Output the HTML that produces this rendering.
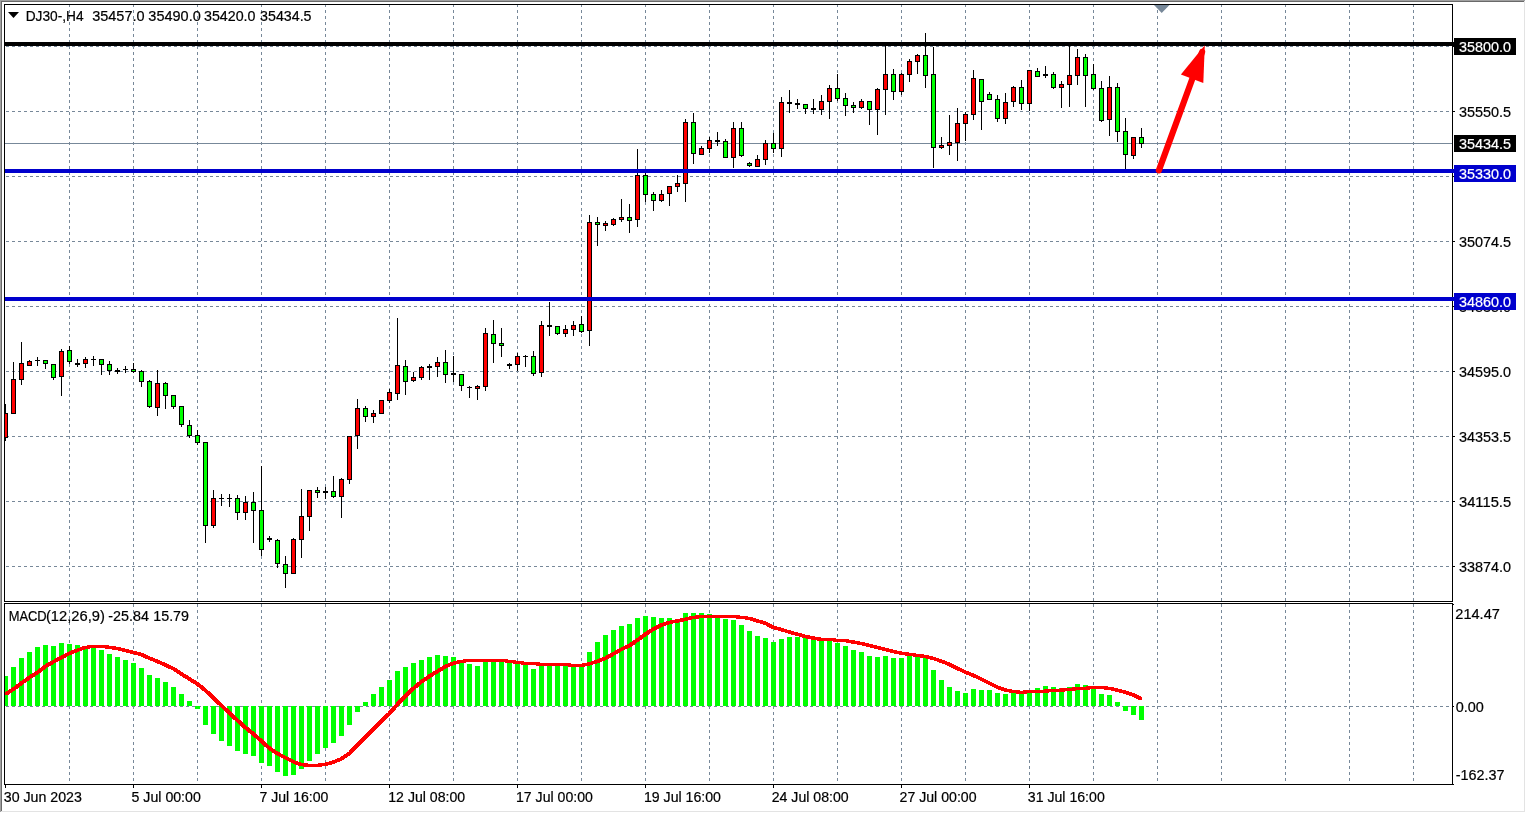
<!DOCTYPE html>
<html lang="en"><head><meta charset="utf-8"><title>DJ30-,H4</title>
<style>html,body{margin:0;padding:0;background:#fff;overflow:hidden}svg{display:block}text{font-family:"Liberation Sans",Arial,sans-serif;font-size:13.8px;fill:#000;stroke:#000;stroke-width:.2px}.w{fill:#fff;stroke:#fff}</style></head><body>
<svg width="1526" height="813" viewBox="0 0 1526 813">
<rect width="1526" height="813" fill="#fff"/>
<g shape-rendering="crispEdges">
<rect x="0" y="0" width="1525" height="1" fill="#a0a0a0"/><rect x="0" y="0" width="1" height="812" fill="#a0a0a0"/>
<rect x="1" y="1" width="1523" height="1" fill="#696969"/><rect x="1" y="1" width="1" height="810" fill="#696969"/>
<rect x="1" y="811" width="1524" height="1" fill="#e3e3e3"/><rect x="1524" y="1" width="1" height="811" fill="#e3e3e3"/>
<defs><clipPath id="cm"><rect x="5" y="5" width="1447" height="596"/></clipPath><clipPath id="ci"><rect x="5" y="604" width="1447" height="180"/></clipPath></defs>
<g clip-path="url(#cm)" stroke="#778899" stroke-width="1" stroke-dasharray="3 3" fill="none">
<path d="M69.5 4V602"/>
<path d="M133.5 4V602"/>
<path d="M197.5 4V602"/>
<path d="M261.5 4V602"/>
<path d="M325.5 4V602"/>
<path d="M389.5 4V602"/>
<path d="M453.5 4V602"/>
<path d="M517.5 4V602"/>
<path d="M581.5 4V602"/>
<path d="M645.5 4V602"/>
<path d="M709.5 4V602"/>
<path d="M773.5 4V602"/>
<path d="M837.5 4V602"/>
<path d="M901.5 4V602"/>
<path d="M965.5 4V602"/>
<path d="M1029.5 4V602"/>
<path d="M1093.5 4V602"/>
<path d="M1157.5 4V602"/>
<path d="M1221.5 4V602"/>
<path d="M1285.5 4V602"/>
<path d="M1349.5 4V602"/>
<path d="M1413.5 4V602"/>
<path d="M0 46.5H1453"/>
<path d="M0 111.5H1453"/>
<path d="M0 176.5H1453"/>
<path d="M0 241.5H1453"/>
<path d="M0 306.5H1453"/>
<path d="M0 371.5H1453"/>
<path d="M0 436.5H1453"/>
<path d="M0 501.5H1453"/>
<path d="M0 566.5H1453"/>
</g>
<g clip-path="url(#ci)" stroke="#778899" stroke-width="1" stroke-dasharray="3 3" fill="none">
<path d="M69.5 604V784"/>
<path d="M133.5 604V784"/>
<path d="M197.5 604V784"/>
<path d="M261.5 604V784"/>
<path d="M325.5 604V784"/>
<path d="M389.5 604V784"/>
<path d="M453.5 604V784"/>
<path d="M517.5 604V784"/>
<path d="M581.5 604V784"/>
<path d="M645.5 604V784"/>
<path d="M709.5 604V784"/>
<path d="M773.5 604V784"/>
<path d="M837.5 604V784"/>
<path d="M901.5 604V784"/>
<path d="M965.5 604V784"/>
<path d="M1029.5 604V784"/>
<path d="M1093.5 604V784"/>
<path d="M1157.5 604V784"/>
<path d="M1221.5 604V784"/>
<path d="M1285.5 604V784"/>
<path d="M1349.5 604V784"/>
<path d="M1413.5 604V784"/>
<path d="M0 706.5H1453"/>
</g>
<rect x="5" y="143" width="1447" height="1" fill="#778899"/>
<g clip-path="url(#cm)">
<rect x="5" y="404" width="1" height="37" fill="#000"/>
<rect x="3" y="413" width="5" height="25" fill="#000"/>
<rect x="4" y="414" width="3" height="23" fill="#ff0000"/>
<rect x="13" y="362" width="1" height="52" fill="#000"/>
<rect x="11" y="379" width="5" height="35" fill="#000"/>
<rect x="12" y="380" width="3" height="33" fill="#ff0000"/>
<rect x="21" y="342" width="1" height="43" fill="#000"/>
<rect x="19" y="363" width="5" height="17" fill="#000"/>
<rect x="20" y="364" width="3" height="15" fill="#ff0000"/>
<rect x="29" y="360" width="1" height="6" fill="#000"/>
<rect x="27" y="361" width="5" height="5" fill="#000"/>
<rect x="28" y="362" width="3" height="3" fill="#ff0000"/>
<rect x="37" y="357" width="1" height="9" fill="#000"/>
<rect x="35" y="360" width="5" height="1" fill="#000"/>
<rect x="45" y="360" width="1" height="9" fill="#000"/>
<rect x="43" y="360" width="5" height="4" fill="#000"/>
<rect x="44" y="361" width="3" height="2" fill="#00ff00"/>
<rect x="53" y="364" width="1" height="16" fill="#000"/>
<rect x="51" y="364" width="5" height="14" fill="#000"/>
<rect x="52" y="365" width="3" height="12" fill="#00ff00"/>
<rect x="61" y="349" width="1" height="47" fill="#000"/>
<rect x="59" y="351" width="5" height="26" fill="#000"/>
<rect x="60" y="352" width="3" height="24" fill="#ff0000"/>
<rect x="69" y="346" width="1" height="18" fill="#000"/>
<rect x="67" y="350" width="5" height="12" fill="#000"/>
<rect x="68" y="351" width="3" height="10" fill="#00ff00"/>
<rect x="77" y="359" width="1" height="8" fill="#000"/>
<rect x="75" y="363" width="5" height="2" fill="#000"/>
<rect x="85" y="357" width="1" height="11" fill="#000"/>
<rect x="83" y="359" width="5" height="5" fill="#000"/>
<rect x="84" y="360" width="3" height="3" fill="#ff0000"/>
<rect x="93" y="356" width="1" height="10" fill="#000"/>
<rect x="91" y="359" width="5" height="1" fill="#000"/>
<rect x="101" y="359" width="1" height="16" fill="#000"/>
<rect x="99" y="359" width="5" height="6" fill="#000"/>
<rect x="100" y="360" width="3" height="4" fill="#00ff00"/>
<rect x="109" y="361" width="1" height="14" fill="#000"/>
<rect x="107" y="364" width="5" height="7" fill="#000"/>
<rect x="108" y="365" width="3" height="5" fill="#00ff00"/>
<rect x="117" y="368" width="1" height="6" fill="#000"/>
<rect x="115" y="370" width="5" height="2" fill="#000"/>
<rect x="125" y="366" width="1" height="7" fill="#000"/>
<rect x="123" y="369" width="5" height="1" fill="#000"/>
<rect x="133" y="363" width="1" height="10" fill="#000"/>
<rect x="131" y="369" width="5" height="3" fill="#000"/>
<rect x="132" y="370" width="3" height="1" fill="#00ff00"/>
<rect x="141" y="370" width="1" height="17" fill="#000"/>
<rect x="139" y="371" width="5" height="11" fill="#000"/>
<rect x="140" y="372" width="3" height="9" fill="#00ff00"/>
<rect x="149" y="380" width="1" height="28" fill="#000"/>
<rect x="147" y="381" width="5" height="26" fill="#000"/>
<rect x="148" y="382" width="3" height="24" fill="#00ff00"/>
<rect x="157" y="370" width="1" height="46" fill="#000"/>
<rect x="155" y="383" width="5" height="25" fill="#000"/>
<rect x="156" y="384" width="3" height="23" fill="#ff0000"/>
<rect x="165" y="382" width="1" height="27" fill="#000"/>
<rect x="163" y="383" width="5" height="13" fill="#000"/>
<rect x="164" y="384" width="3" height="11" fill="#00ff00"/>
<rect x="173" y="395" width="1" height="14" fill="#000"/>
<rect x="171" y="395" width="5" height="12" fill="#000"/>
<rect x="172" y="396" width="3" height="10" fill="#00ff00"/>
<rect x="181" y="406" width="1" height="21" fill="#000"/>
<rect x="179" y="406" width="5" height="19" fill="#000"/>
<rect x="180" y="407" width="3" height="17" fill="#00ff00"/>
<rect x="189" y="420" width="1" height="18" fill="#000"/>
<rect x="187" y="425" width="5" height="11" fill="#000"/>
<rect x="188" y="426" width="3" height="9" fill="#00ff00"/>
<rect x="197" y="430" width="1" height="15" fill="#000"/>
<rect x="195" y="435" width="5" height="8" fill="#000"/>
<rect x="196" y="436" width="3" height="6" fill="#00ff00"/>
<rect x="205" y="442" width="1" height="101" fill="#000"/>
<rect x="203" y="442" width="5" height="84" fill="#000"/>
<rect x="204" y="443" width="3" height="82" fill="#00ff00"/>
<rect x="213" y="490" width="1" height="38" fill="#000"/>
<rect x="211" y="498" width="5" height="28" fill="#000"/>
<rect x="212" y="499" width="3" height="26" fill="#ff0000"/>
<rect x="221" y="494" width="1" height="12" fill="#000"/>
<rect x="219" y="498" width="5" height="1" fill="#000"/>
<rect x="229" y="494" width="1" height="13" fill="#000"/>
<rect x="227" y="498" width="5" height="1" fill="#000"/>
<rect x="237" y="495" width="1" height="25" fill="#000"/>
<rect x="235" y="498" width="5" height="15" fill="#000"/>
<rect x="236" y="499" width="3" height="13" fill="#00ff00"/>
<rect x="245" y="496" width="1" height="24" fill="#000"/>
<rect x="243" y="502" width="5" height="11" fill="#000"/>
<rect x="244" y="503" width="3" height="9" fill="#ff0000"/>
<rect x="253" y="492" width="1" height="51" fill="#000"/>
<rect x="251" y="502" width="5" height="9" fill="#000"/>
<rect x="252" y="503" width="3" height="7" fill="#00ff00"/>
<rect x="261" y="466" width="1" height="90" fill="#000"/>
<rect x="259" y="510" width="5" height="40" fill="#000"/>
<rect x="260" y="511" width="3" height="38" fill="#00ff00"/>
<rect x="269" y="536" width="1" height="6" fill="#000"/>
<rect x="267" y="538" width="5" height="2" fill="#000"/>
<rect x="277" y="539" width="1" height="29" fill="#000"/>
<rect x="275" y="540" width="5" height="24" fill="#000"/>
<rect x="276" y="541" width="3" height="22" fill="#00ff00"/>
<rect x="285" y="556" width="1" height="32" fill="#000"/>
<rect x="283" y="564" width="5" height="10" fill="#000"/>
<rect x="284" y="565" width="3" height="8" fill="#00ff00"/>
<rect x="293" y="538" width="1" height="36" fill="#000"/>
<rect x="291" y="539" width="5" height="35" fill="#000"/>
<rect x="292" y="540" width="3" height="33" fill="#ff0000"/>
<rect x="301" y="489" width="1" height="69" fill="#000"/>
<rect x="299" y="516" width="5" height="24" fill="#000"/>
<rect x="300" y="517" width="3" height="22" fill="#ff0000"/>
<rect x="309" y="490" width="1" height="41" fill="#000"/>
<rect x="307" y="490" width="5" height="27" fill="#000"/>
<rect x="308" y="491" width="3" height="25" fill="#ff0000"/>
<rect x="317" y="487" width="1" height="11" fill="#000"/>
<rect x="315" y="490" width="5" height="3" fill="#000"/>
<rect x="316" y="491" width="3" height="1" fill="#00ff00"/>
<rect x="325" y="487" width="1" height="12" fill="#000"/>
<rect x="323" y="491" width="5" height="2" fill="#000"/>
<rect x="333" y="476" width="1" height="22" fill="#000"/>
<rect x="331" y="491" width="5" height="6" fill="#000"/>
<rect x="332" y="492" width="3" height="4" fill="#00ff00"/>
<rect x="341" y="478" width="1" height="40" fill="#000"/>
<rect x="339" y="479" width="5" height="18" fill="#000"/>
<rect x="340" y="480" width="3" height="16" fill="#ff0000"/>
<rect x="349" y="436" width="1" height="48" fill="#000"/>
<rect x="347" y="436" width="5" height="44" fill="#000"/>
<rect x="348" y="437" width="3" height="42" fill="#ff0000"/>
<rect x="357" y="399" width="1" height="50" fill="#000"/>
<rect x="355" y="408" width="5" height="28" fill="#000"/>
<rect x="356" y="409" width="3" height="26" fill="#ff0000"/>
<rect x="365" y="406" width="1" height="16" fill="#000"/>
<rect x="363" y="408" width="5" height="9" fill="#000"/>
<rect x="364" y="409" width="3" height="7" fill="#00ff00"/>
<rect x="373" y="410" width="1" height="13" fill="#000"/>
<rect x="371" y="413" width="5" height="4" fill="#000"/>
<rect x="372" y="414" width="3" height="2" fill="#ff0000"/>
<rect x="381" y="400" width="1" height="14" fill="#000"/>
<rect x="379" y="400" width="5" height="14" fill="#000"/>
<rect x="380" y="401" width="3" height="12" fill="#ff0000"/>
<rect x="389" y="389" width="1" height="14" fill="#000"/>
<rect x="387" y="392" width="5" height="9" fill="#000"/>
<rect x="388" y="393" width="3" height="7" fill="#ff0000"/>
<rect x="397" y="318" width="1" height="82" fill="#000"/>
<rect x="395" y="365" width="5" height="29" fill="#000"/>
<rect x="396" y="366" width="3" height="27" fill="#ff0000"/>
<rect x="405" y="360" width="1" height="35" fill="#000"/>
<rect x="403" y="366" width="5" height="16" fill="#000"/>
<rect x="404" y="367" width="3" height="14" fill="#00ff00"/>
<rect x="413" y="372" width="1" height="10" fill="#000"/>
<rect x="411" y="377" width="5" height="4" fill="#000"/>
<rect x="412" y="378" width="3" height="2" fill="#ff0000"/>
<rect x="421" y="366" width="1" height="14" fill="#000"/>
<rect x="419" y="367" width="5" height="11" fill="#000"/>
<rect x="420" y="368" width="3" height="9" fill="#ff0000"/>
<rect x="429" y="364" width="1" height="16" fill="#000"/>
<rect x="427" y="366" width="5" height="2" fill="#000"/>
<rect x="437" y="357" width="1" height="20" fill="#000"/>
<rect x="435" y="362" width="5" height="5" fill="#000"/>
<rect x="436" y="363" width="3" height="3" fill="#ff0000"/>
<rect x="445" y="350" width="1" height="33" fill="#000"/>
<rect x="443" y="362" width="5" height="13" fill="#000"/>
<rect x="444" y="363" width="3" height="11" fill="#00ff00"/>
<rect x="453" y="356" width="1" height="26" fill="#000"/>
<rect x="451" y="373" width="5" height="2" fill="#000"/>
<rect x="461" y="374" width="1" height="17" fill="#000"/>
<rect x="459" y="374" width="5" height="12" fill="#000"/>
<rect x="460" y="375" width="3" height="10" fill="#00ff00"/>
<rect x="469" y="386" width="1" height="12" fill="#000"/>
<rect x="467" y="387" width="5" height="1" fill="#000"/>
<rect x="477" y="385" width="1" height="15" fill="#000"/>
<rect x="475" y="386" width="5" height="3" fill="#000"/>
<rect x="476" y="387" width="3" height="1" fill="#ff0000"/>
<rect x="485" y="328" width="1" height="63" fill="#000"/>
<rect x="483" y="333" width="5" height="54" fill="#000"/>
<rect x="484" y="334" width="3" height="52" fill="#ff0000"/>
<rect x="493" y="320" width="1" height="43" fill="#000"/>
<rect x="491" y="334" width="5" height="10" fill="#000"/>
<rect x="492" y="335" width="3" height="8" fill="#00ff00"/>
<rect x="501" y="328" width="1" height="29" fill="#000"/>
<rect x="499" y="343" width="5" height="3" fill="#000"/>
<rect x="500" y="344" width="3" height="1" fill="#00ff00"/>
<rect x="509" y="363" width="1" height="6" fill="#000"/>
<rect x="507" y="364" width="5" height="2" fill="#000"/>
<rect x="517" y="353" width="1" height="18" fill="#000"/>
<rect x="515" y="356" width="5" height="9" fill="#000"/>
<rect x="516" y="357" width="3" height="7" fill="#ff0000"/>
<rect x="525" y="355" width="1" height="12" fill="#000"/>
<rect x="523" y="356" width="5" height="1" fill="#000"/>
<rect x="533" y="351" width="1" height="25" fill="#000"/>
<rect x="531" y="356" width="5" height="18" fill="#000"/>
<rect x="532" y="357" width="3" height="16" fill="#00ff00"/>
<rect x="541" y="321" width="1" height="56" fill="#000"/>
<rect x="539" y="325" width="5" height="48" fill="#000"/>
<rect x="540" y="326" width="3" height="46" fill="#ff0000"/>
<rect x="549" y="302" width="1" height="34" fill="#000"/>
<rect x="547" y="325" width="5" height="2" fill="#000"/>
<rect x="557" y="326" width="1" height="9" fill="#000"/>
<rect x="555" y="326" width="5" height="8" fill="#000"/>
<rect x="556" y="327" width="3" height="6" fill="#00ff00"/>
<rect x="565" y="325" width="1" height="12" fill="#000"/>
<rect x="563" y="329" width="5" height="5" fill="#000"/>
<rect x="564" y="330" width="3" height="3" fill="#ff0000"/>
<rect x="573" y="321" width="1" height="15" fill="#000"/>
<rect x="571" y="325" width="5" height="5" fill="#000"/>
<rect x="572" y="326" width="3" height="3" fill="#ff0000"/>
<rect x="581" y="316" width="1" height="17" fill="#000"/>
<rect x="579" y="324" width="5" height="8" fill="#000"/>
<rect x="580" y="325" width="3" height="6" fill="#00ff00"/>
<rect x="589" y="215" width="1" height="131" fill="#000"/>
<rect x="587" y="222" width="5" height="109" fill="#000"/>
<rect x="588" y="223" width="3" height="107" fill="#ff0000"/>
<rect x="597" y="217" width="1" height="29" fill="#000"/>
<rect x="595" y="222" width="5" height="3" fill="#000"/>
<rect x="596" y="223" width="3" height="1" fill="#00ff00"/>
<rect x="605" y="221" width="1" height="10" fill="#000"/>
<rect x="603" y="223" width="5" height="3" fill="#000"/>
<rect x="604" y="224" width="3" height="1" fill="#ff0000"/>
<rect x="613" y="218" width="1" height="8" fill="#000"/>
<rect x="611" y="219" width="5" height="6" fill="#000"/>
<rect x="612" y="220" width="3" height="4" fill="#ff0000"/>
<rect x="621" y="199" width="1" height="23" fill="#000"/>
<rect x="619" y="217" width="5" height="3" fill="#000"/>
<rect x="620" y="218" width="3" height="1" fill="#ff0000"/>
<rect x="629" y="204" width="1" height="29" fill="#000"/>
<rect x="627" y="217" width="5" height="4" fill="#000"/>
<rect x="628" y="218" width="3" height="2" fill="#00ff00"/>
<rect x="637" y="149" width="1" height="78" fill="#000"/>
<rect x="635" y="175" width="5" height="45" fill="#000"/>
<rect x="636" y="176" width="3" height="43" fill="#ff0000"/>
<rect x="645" y="170" width="1" height="32" fill="#000"/>
<rect x="643" y="175" width="5" height="20" fill="#000"/>
<rect x="644" y="176" width="3" height="18" fill="#00ff00"/>
<rect x="653" y="192" width="1" height="19" fill="#000"/>
<rect x="651" y="194" width="5" height="7" fill="#000"/>
<rect x="652" y="195" width="3" height="5" fill="#00ff00"/>
<rect x="661" y="190" width="1" height="12" fill="#000"/>
<rect x="659" y="194" width="5" height="7" fill="#000"/>
<rect x="660" y="195" width="3" height="5" fill="#ff0000"/>
<rect x="669" y="186" width="1" height="20" fill="#000"/>
<rect x="667" y="186" width="5" height="8" fill="#000"/>
<rect x="668" y="187" width="3" height="6" fill="#ff0000"/>
<rect x="677" y="175" width="1" height="17" fill="#000"/>
<rect x="675" y="183" width="5" height="4" fill="#000"/>
<rect x="676" y="184" width="3" height="2" fill="#ff0000"/>
<rect x="685" y="119" width="1" height="83" fill="#000"/>
<rect x="683" y="122" width="5" height="62" fill="#000"/>
<rect x="684" y="123" width="3" height="60" fill="#ff0000"/>
<rect x="693" y="113" width="1" height="51" fill="#000"/>
<rect x="691" y="122" width="5" height="32" fill="#000"/>
<rect x="692" y="123" width="3" height="30" fill="#00ff00"/>
<rect x="701" y="146" width="1" height="9" fill="#000"/>
<rect x="699" y="148" width="5" height="7" fill="#000"/>
<rect x="700" y="149" width="3" height="5" fill="#ff0000"/>
<rect x="709" y="137" width="1" height="16" fill="#000"/>
<rect x="707" y="140" width="5" height="9" fill="#000"/>
<rect x="708" y="141" width="3" height="7" fill="#ff0000"/>
<rect x="717" y="132" width="1" height="14" fill="#000"/>
<rect x="715" y="140" width="5" height="2" fill="#000"/>
<rect x="725" y="139" width="1" height="19" fill="#000"/>
<rect x="723" y="141" width="5" height="17" fill="#000"/>
<rect x="724" y="142" width="3" height="15" fill="#00ff00"/>
<rect x="733" y="122" width="1" height="46" fill="#000"/>
<rect x="731" y="128" width="5" height="30" fill="#000"/>
<rect x="732" y="129" width="3" height="28" fill="#ff0000"/>
<rect x="741" y="122" width="1" height="35" fill="#000"/>
<rect x="739" y="128" width="5" height="28" fill="#000"/>
<rect x="740" y="129" width="3" height="26" fill="#00ff00"/>
<rect x="749" y="162" width="1" height="5" fill="#000"/>
<rect x="747" y="163" width="5" height="3" fill="#000"/>
<rect x="748" y="164" width="3" height="1" fill="#00ff00"/>
<rect x="757" y="155" width="1" height="12" fill="#000"/>
<rect x="755" y="159" width="5" height="8" fill="#000"/>
<rect x="756" y="160" width="3" height="6" fill="#ff0000"/>
<rect x="765" y="140" width="1" height="25" fill="#000"/>
<rect x="763" y="143" width="5" height="17" fill="#000"/>
<rect x="764" y="144" width="3" height="15" fill="#ff0000"/>
<rect x="773" y="133" width="1" height="20" fill="#000"/>
<rect x="771" y="143" width="5" height="6" fill="#000"/>
<rect x="772" y="144" width="3" height="4" fill="#00ff00"/>
<rect x="781" y="97" width="1" height="60" fill="#000"/>
<rect x="779" y="102" width="5" height="47" fill="#000"/>
<rect x="780" y="103" width="3" height="45" fill="#ff0000"/>
<rect x="789" y="90" width="1" height="23" fill="#000"/>
<rect x="787" y="102" width="5" height="2" fill="#000"/>
<rect x="797" y="99" width="1" height="10" fill="#000"/>
<rect x="795" y="103" width="5" height="2" fill="#000"/>
<rect x="805" y="104" width="1" height="10" fill="#000"/>
<rect x="803" y="104" width="5" height="5" fill="#000"/>
<rect x="804" y="105" width="3" height="3" fill="#00ff00"/>
<rect x="813" y="99" width="1" height="15" fill="#000"/>
<rect x="811" y="108" width="5" height="2" fill="#000"/>
<rect x="821" y="95" width="1" height="20" fill="#000"/>
<rect x="819" y="101" width="5" height="9" fill="#000"/>
<rect x="820" y="102" width="3" height="7" fill="#ff0000"/>
<rect x="829" y="85" width="1" height="34" fill="#000"/>
<rect x="827" y="88" width="5" height="14" fill="#000"/>
<rect x="828" y="89" width="3" height="12" fill="#ff0000"/>
<rect x="837" y="74" width="1" height="27" fill="#000"/>
<rect x="835" y="88" width="5" height="11" fill="#000"/>
<rect x="836" y="89" width="3" height="9" fill="#00ff00"/>
<rect x="845" y="93" width="1" height="23" fill="#000"/>
<rect x="843" y="98" width="5" height="8" fill="#000"/>
<rect x="844" y="99" width="3" height="6" fill="#00ff00"/>
<rect x="853" y="102" width="1" height="11" fill="#000"/>
<rect x="851" y="105" width="5" height="3" fill="#000"/>
<rect x="852" y="106" width="3" height="1" fill="#00ff00"/>
<rect x="861" y="99" width="1" height="10" fill="#000"/>
<rect x="859" y="101" width="5" height="7" fill="#000"/>
<rect x="860" y="102" width="3" height="5" fill="#ff0000"/>
<rect x="869" y="101" width="1" height="24" fill="#000"/>
<rect x="867" y="101" width="5" height="9" fill="#000"/>
<rect x="868" y="102" width="3" height="7" fill="#00ff00"/>
<rect x="877" y="88" width="1" height="47" fill="#000"/>
<rect x="875" y="89" width="5" height="21" fill="#000"/>
<rect x="876" y="90" width="3" height="19" fill="#ff0000"/>
<rect x="885" y="44" width="1" height="71" fill="#000"/>
<rect x="883" y="74" width="5" height="16" fill="#000"/>
<rect x="884" y="75" width="3" height="14" fill="#ff0000"/>
<rect x="893" y="69" width="1" height="31" fill="#000"/>
<rect x="891" y="74" width="5" height="18" fill="#000"/>
<rect x="892" y="75" width="3" height="16" fill="#00ff00"/>
<rect x="901" y="73" width="1" height="22" fill="#000"/>
<rect x="899" y="74" width="5" height="18" fill="#000"/>
<rect x="900" y="75" width="3" height="16" fill="#ff0000"/>
<rect x="909" y="59" width="1" height="23" fill="#000"/>
<rect x="907" y="61" width="5" height="14" fill="#000"/>
<rect x="908" y="62" width="3" height="12" fill="#ff0000"/>
<rect x="917" y="54" width="1" height="20" fill="#000"/>
<rect x="915" y="55" width="5" height="7" fill="#000"/>
<rect x="916" y="56" width="3" height="5" fill="#ff0000"/>
<rect x="925" y="33" width="1" height="55" fill="#000"/>
<rect x="923" y="55" width="5" height="21" fill="#000"/>
<rect x="924" y="56" width="3" height="19" fill="#00ff00"/>
<rect x="933" y="47" width="1" height="121" fill="#000"/>
<rect x="931" y="74" width="5" height="74" fill="#000"/>
<rect x="932" y="75" width="3" height="72" fill="#00ff00"/>
<rect x="941" y="137" width="1" height="12" fill="#000"/>
<rect x="939" y="145" width="5" height="3" fill="#000"/>
<rect x="940" y="146" width="3" height="1" fill="#ff0000"/>
<rect x="949" y="115" width="1" height="40" fill="#000"/>
<rect x="947" y="142" width="5" height="4" fill="#000"/>
<rect x="948" y="143" width="3" height="2" fill="#ff0000"/>
<rect x="957" y="108" width="1" height="53" fill="#000"/>
<rect x="955" y="123" width="5" height="20" fill="#000"/>
<rect x="956" y="124" width="3" height="18" fill="#ff0000"/>
<rect x="965" y="112" width="1" height="29" fill="#000"/>
<rect x="963" y="114" width="5" height="10" fill="#000"/>
<rect x="964" y="115" width="3" height="8" fill="#ff0000"/>
<rect x="973" y="70" width="1" height="50" fill="#000"/>
<rect x="971" y="78" width="5" height="37" fill="#000"/>
<rect x="972" y="79" width="3" height="35" fill="#ff0000"/>
<rect x="981" y="79" width="1" height="51" fill="#000"/>
<rect x="979" y="79" width="5" height="23" fill="#000"/>
<rect x="980" y="80" width="3" height="21" fill="#00ff00"/>
<rect x="989" y="92" width="1" height="8" fill="#000"/>
<rect x="987" y="94" width="5" height="6" fill="#000"/>
<rect x="988" y="95" width="3" height="4" fill="#00ff00"/>
<rect x="997" y="95" width="1" height="27" fill="#000"/>
<rect x="995" y="99" width="5" height="20" fill="#000"/>
<rect x="996" y="100" width="3" height="18" fill="#00ff00"/>
<rect x="1005" y="93" width="1" height="31" fill="#000"/>
<rect x="1003" y="102" width="5" height="17" fill="#000"/>
<rect x="1004" y="103" width="3" height="15" fill="#ff0000"/>
<rect x="1013" y="86" width="1" height="21" fill="#000"/>
<rect x="1011" y="87" width="5" height="15" fill="#000"/>
<rect x="1012" y="88" width="3" height="13" fill="#ff0000"/>
<rect x="1021" y="80" width="1" height="30" fill="#000"/>
<rect x="1019" y="87" width="5" height="17" fill="#000"/>
<rect x="1020" y="88" width="3" height="15" fill="#00ff00"/>
<rect x="1029" y="70" width="1" height="41" fill="#000"/>
<rect x="1027" y="70" width="5" height="34" fill="#000"/>
<rect x="1028" y="71" width="3" height="32" fill="#ff0000"/>
<rect x="1037" y="68" width="1" height="9" fill="#000"/>
<rect x="1035" y="71" width="5" height="6" fill="#000"/>
<rect x="1036" y="72" width="3" height="4" fill="#00ff00"/>
<rect x="1045" y="66" width="1" height="12" fill="#000"/>
<rect x="1043" y="74" width="5" height="2" fill="#000"/>
<rect x="1053" y="72" width="1" height="17" fill="#000"/>
<rect x="1051" y="74" width="5" height="14" fill="#000"/>
<rect x="1052" y="75" width="3" height="12" fill="#00ff00"/>
<rect x="1061" y="81" width="1" height="27" fill="#000"/>
<rect x="1059" y="84" width="5" height="4" fill="#000"/>
<rect x="1060" y="85" width="3" height="2" fill="#ff0000"/>
<rect x="1069" y="44" width="1" height="63" fill="#000"/>
<rect x="1067" y="75" width="5" height="10" fill="#000"/>
<rect x="1068" y="76" width="3" height="8" fill="#ff0000"/>
<rect x="1077" y="49" width="1" height="36" fill="#000"/>
<rect x="1075" y="57" width="5" height="19" fill="#000"/>
<rect x="1076" y="58" width="3" height="17" fill="#ff0000"/>
<rect x="1085" y="54" width="1" height="53" fill="#000"/>
<rect x="1083" y="57" width="5" height="19" fill="#000"/>
<rect x="1084" y="58" width="3" height="17" fill="#00ff00"/>
<rect x="1093" y="64" width="1" height="26" fill="#000"/>
<rect x="1091" y="74" width="5" height="15" fill="#000"/>
<rect x="1092" y="75" width="3" height="13" fill="#00ff00"/>
<rect x="1101" y="81" width="1" height="41" fill="#000"/>
<rect x="1099" y="88" width="5" height="33" fill="#000"/>
<rect x="1100" y="89" width="3" height="31" fill="#00ff00"/>
<rect x="1109" y="76" width="1" height="60" fill="#000"/>
<rect x="1107" y="87" width="5" height="33" fill="#000"/>
<rect x="1108" y="88" width="3" height="31" fill="#ff0000"/>
<rect x="1117" y="83" width="1" height="59" fill="#000"/>
<rect x="1115" y="87" width="5" height="45" fill="#000"/>
<rect x="1116" y="88" width="3" height="43" fill="#00ff00"/>
<rect x="1125" y="118" width="1" height="53" fill="#000"/>
<rect x="1123" y="131" width="5" height="24" fill="#000"/>
<rect x="1124" y="132" width="3" height="22" fill="#00ff00"/>
<rect x="1133" y="137" width="1" height="22" fill="#000"/>
<rect x="1131" y="137" width="5" height="19" fill="#000"/>
<rect x="1132" y="138" width="3" height="17" fill="#ff0000"/>
<rect x="1141" y="128" width="1" height="20" fill="#000"/>
<rect x="1139" y="137" width="5" height="7" fill="#000"/>
<rect x="1140" y="138" width="3" height="5" fill="#00ff00"/>
</g>
<g clip-path="url(#ci)" fill="#00ff00">
<rect x="3" y="676" width="5" height="30"/>
<rect x="11" y="667" width="5" height="39"/>
<rect x="19" y="658" width="5" height="48"/>
<rect x="27" y="652" width="5" height="54"/>
<rect x="35" y="647" width="5" height="59"/>
<rect x="43" y="645" width="5" height="61"/>
<rect x="51" y="646" width="5" height="60"/>
<rect x="59" y="643" width="5" height="63"/>
<rect x="67" y="644" width="5" height="62"/>
<rect x="75" y="645" width="5" height="61"/>
<rect x="83" y="646" width="5" height="60"/>
<rect x="91" y="648" width="5" height="58"/>
<rect x="99" y="650" width="5" height="56"/>
<rect x="107" y="654" width="5" height="52"/>
<rect x="115" y="657" width="5" height="49"/>
<rect x="123" y="660" width="5" height="46"/>
<rect x="131" y="663" width="5" height="43"/>
<rect x="139" y="668" width="5" height="38"/>
<rect x="147" y="675" width="5" height="31"/>
<rect x="155" y="678" width="5" height="28"/>
<rect x="163" y="682" width="5" height="24"/>
<rect x="171" y="687" width="5" height="19"/>
<rect x="179" y="694" width="5" height="12"/>
<rect x="187" y="701" width="5" height="5"/>
<rect x="195" y="706" width="5" height="3"/>
<rect x="203" y="706" width="5" height="19"/>
<rect x="211" y="706" width="5" height="28"/>
<rect x="219" y="706" width="5" height="35"/>
<rect x="227" y="706" width="5" height="40"/>
<rect x="235" y="706" width="5" height="45"/>
<rect x="243" y="706" width="5" height="48"/>
<rect x="251" y="706" width="5" height="50"/>
<rect x="259" y="706" width="5" height="57"/>
<rect x="267" y="706" width="5" height="60"/>
<rect x="275" y="706" width="5" height="66"/>
<rect x="283" y="706" width="5" height="70"/>
<rect x="291" y="706" width="5" height="69"/>
<rect x="299" y="706" width="5" height="63"/>
<rect x="307" y="706" width="5" height="55"/>
<rect x="315" y="706" width="5" height="48"/>
<rect x="323" y="706" width="5" height="42"/>
<rect x="331" y="706" width="5" height="37"/>
<rect x="339" y="706" width="5" height="30"/>
<rect x="347" y="706" width="5" height="19"/>
<rect x="355" y="706" width="5" height="6"/>
<rect x="363" y="702" width="5" height="4"/>
<rect x="371" y="694" width="5" height="12"/>
<rect x="379" y="687" width="5" height="19"/>
<rect x="387" y="680" width="5" height="26"/>
<rect x="395" y="671" width="5" height="35"/>
<rect x="403" y="667" width="5" height="39"/>
<rect x="411" y="663" width="5" height="43"/>
<rect x="419" y="660" width="5" height="46"/>
<rect x="427" y="657" width="5" height="49"/>
<rect x="435" y="655" width="5" height="51"/>
<rect x="443" y="656" width="5" height="50"/>
<rect x="451" y="657" width="5" height="49"/>
<rect x="459" y="661" width="5" height="45"/>
<rect x="467" y="664" width="5" height="42"/>
<rect x="475" y="666" width="5" height="40"/>
<rect x="483" y="660" width="5" height="46"/>
<rect x="491" y="659" width="5" height="47"/>
<rect x="499" y="659" width="5" height="47"/>
<rect x="507" y="661" width="5" height="45"/>
<rect x="515" y="662" width="5" height="44"/>
<rect x="523" y="664" width="5" height="42"/>
<rect x="531" y="669" width="5" height="37"/>
<rect x="539" y="665" width="5" height="41"/>
<rect x="547" y="665" width="5" height="41"/>
<rect x="555" y="665" width="5" height="41"/>
<rect x="563" y="665" width="5" height="41"/>
<rect x="571" y="666" width="5" height="40"/>
<rect x="579" y="666" width="5" height="40"/>
<rect x="587" y="652" width="5" height="54"/>
<rect x="595" y="642" width="5" height="64"/>
<rect x="603" y="635" width="5" height="71"/>
<rect x="611" y="630" width="5" height="76"/>
<rect x="619" y="626" width="5" height="80"/>
<rect x="627" y="624" width="5" height="82"/>
<rect x="635" y="618" width="5" height="88"/>
<rect x="643" y="616" width="5" height="90"/>
<rect x="651" y="617" width="5" height="89"/>
<rect x="659" y="618" width="5" height="88"/>
<rect x="667" y="618" width="5" height="88"/>
<rect x="675" y="619" width="5" height="87"/>
<rect x="683" y="613" width="5" height="93"/>
<rect x="691" y="613" width="5" height="93"/>
<rect x="699" y="613" width="5" height="93"/>
<rect x="707" y="614" width="5" height="92"/>
<rect x="715" y="617" width="5" height="89"/>
<rect x="723" y="619" width="5" height="87"/>
<rect x="731" y="620" width="5" height="86"/>
<rect x="739" y="625" width="5" height="81"/>
<rect x="747" y="631" width="5" height="75"/>
<rect x="755" y="636" width="5" height="70"/>
<rect x="763" y="638" width="5" height="68"/>
<rect x="771" y="642" width="5" height="64"/>
<rect x="779" y="639" width="5" height="67"/>
<rect x="787" y="637" width="5" height="69"/>
<rect x="795" y="637" width="5" height="69"/>
<rect x="803" y="638" width="5" height="68"/>
<rect x="811" y="640" width="5" height="66"/>
<rect x="819" y="641" width="5" height="65"/>
<rect x="827" y="641" width="5" height="65"/>
<rect x="835" y="643" width="5" height="63"/>
<rect x="843" y="646" width="5" height="60"/>
<rect x="851" y="650" width="5" height="56"/>
<rect x="859" y="652" width="5" height="54"/>
<rect x="867" y="656" width="5" height="50"/>
<rect x="875" y="657" width="5" height="49"/>
<rect x="883" y="656" width="5" height="50"/>
<rect x="891" y="658" width="5" height="48"/>
<rect x="899" y="658" width="5" height="48"/>
<rect x="907" y="656" width="5" height="50"/>
<rect x="915" y="657" width="5" height="49"/>
<rect x="923" y="658" width="5" height="48"/>
<rect x="931" y="670" width="5" height="36"/>
<rect x="939" y="680" width="5" height="26"/>
<rect x="947" y="687" width="5" height="19"/>
<rect x="955" y="691" width="5" height="15"/>
<rect x="963" y="693" width="5" height="13"/>
<rect x="971" y="689" width="5" height="17"/>
<rect x="979" y="690" width="5" height="16"/>
<rect x="987" y="690" width="5" height="16"/>
<rect x="995" y="693" width="5" height="13"/>
<rect x="1003" y="694" width="5" height="12"/>
<rect x="1011" y="692" width="5" height="14"/>
<rect x="1019" y="692" width="5" height="14"/>
<rect x="1027" y="690" width="5" height="16"/>
<rect x="1035" y="688" width="5" height="18"/>
<rect x="1043" y="686" width="5" height="20"/>
<rect x="1051" y="687" width="5" height="19"/>
<rect x="1059" y="688" width="5" height="18"/>
<rect x="1067" y="687" width="5" height="19"/>
<rect x="1075" y="684" width="5" height="22"/>
<rect x="1083" y="685" width="5" height="21"/>
<rect x="1091" y="688" width="5" height="18"/>
<rect x="1099" y="694" width="5" height="12"/>
<rect x="1107" y="695" width="5" height="11"/>
<rect x="1115" y="702" width="5" height="4"/>
<rect x="1123" y="706" width="5" height="5"/>
<rect x="1131" y="706" width="5" height="9"/>
<rect x="1139" y="706" width="5" height="14"/>
</g>
</g>
<g clip-path="url(#ci)" shape-rendering="crispEdges" fill="none" stroke="#ff0000" stroke-width="1.2" stroke-linejoin="round">
<polyline points="4.5,693.3 12.5,688 20.5,682.2 28.5,676.4 36.5,671.5 44.5,665.2 52.5,660.8 60.5,656.4 68.5,652.3 76.5,649.2 84.5,646.4 92.5,645.4 100.5,645.4 108.5,646.3 116.5,647.6 124.5,649.5 132.5,651.4 140.5,653.5 148.5,657.3 156.5,660.4 164.5,664 172.5,667.7 180.5,673 188.5,678 196.5,683 204.5,689.5 212.5,697 220.5,704.5 228.5,712.2 236.5,719.5 244.5,726.6 252.5,732.9 260.5,740.2 268.5,747.3 276.5,752.6 284.5,756.8 292.5,760.8 300.5,763.7 308.5,764.3 316.5,764.3 324.5,763.3 332.5,761.1 340.5,757.8 348.5,752.4 356.5,744.2 364.5,735.8 372.5,727.7 380.5,720 388.5,712.4 396.5,703.3 404.5,694.9 412.5,687.3 420.5,680.7 428.5,675.2 436.5,670.4 444.5,665.4 452.5,662.2 460.5,660.4 468.5,659.4 476.5,659.4 484.5,659.4 492.5,659.4 500.5,659.4 508.5,660.4 516.5,661.4 524.5,662.4 532.5,662.6 540.5,663.4 548.5,663.5 556.5,663.5 564.5,663.5 572.5,664.5 580.5,664.5 588.5,662.8 596.5,660.3 604.5,657.2 612.5,652.8 620.5,648.2 628.5,644.6 636.5,639 644.5,633.1 652.5,628.1 660.5,623.9 668.5,621.4 676.5,619.9 684.5,618.3 692.5,616.4 700.5,615.5 708.5,615.5 716.5,615.5 724.5,615.5 732.5,615.5 740.5,616.4 748.5,617.4 756.5,619.9 764.5,622.3 772.5,626.4 780.5,628.6 788.5,631.1 796.5,633.3 804.5,635.5 812.5,637.1 820.5,638.4 828.5,638.4 836.5,639.4 844.5,639.6 852.5,641.1 860.5,642.5 868.5,644.4 876.5,646.5 884.5,648.4 892.5,650.5 900.5,652.2 908.5,653.4 916.5,654.4 924.5,655.5 932.5,657.5 940.5,660.2 948.5,663.4 956.5,667.4 964.5,671.2 972.5,674.4 980.5,678.2 988.5,682.2 996.5,686.3 1004.5,689.1 1012.5,690.6 1020.5,691.4 1028.5,690.6 1036.5,690.4 1044.5,690.1 1052.5,689.4 1060.5,689.1 1068.5,688.5 1076.5,687.6 1084.5,687.2 1092.5,686.6 1100.5,686.6 1108.5,687.4 1116.5,689.3 1124.5,691.3 1132.5,694.1 1140.5,698.2"/>
<polyline points="4.5,694.3 12.5,689 20.5,683.2 28.5,677.4 36.5,672.5 44.5,666.2 52.5,661.8 60.5,657.4 68.5,653.3 76.5,650.2 84.5,647.4 92.5,646.4 100.5,646.4 108.5,647.3 116.5,648.6 124.5,650.5 132.5,652.4 140.5,654.5 148.5,658.3 156.5,661.4 164.5,665 172.5,668.7 180.5,674 188.5,679 196.5,684 204.5,690.5 212.5,698 220.5,705.5 228.5,713.2 236.5,720.5 244.5,727.6 252.5,733.9 260.5,741.2 268.5,748.3 276.5,753.6 284.5,757.8 292.5,761.8 300.5,764.7 308.5,765.3 316.5,765.3 324.5,764.3 332.5,762.1 340.5,758.8 348.5,753.4 356.5,745.2 364.5,736.8 372.5,728.7 380.5,721 388.5,713.4 396.5,704.3 404.5,695.9 412.5,688.3 420.5,681.7 428.5,676.2 436.5,671.4 444.5,666.4 452.5,663.2 460.5,661.4 468.5,660.4 476.5,660.4 484.5,660.4 492.5,660.4 500.5,660.4 508.5,661.4 516.5,662.4 524.5,663.4 532.5,663.6 540.5,664.4 548.5,664.5 556.5,664.5 564.5,664.5 572.5,665.5 580.5,665.5 588.5,663.8 596.5,661.3 604.5,658.2 612.5,653.8 620.5,649.2 628.5,645.6 636.5,640 644.5,634.1 652.5,629.1 660.5,624.9 668.5,622.4 676.5,620.9 684.5,619.3 692.5,617.4 700.5,616.5 708.5,616.5 716.5,616.5 724.5,616.5 732.5,616.5 740.5,617.4 748.5,618.4 756.5,620.9 764.5,623.3 772.5,627.4 780.5,629.6 788.5,632.1 796.5,634.3 804.5,636.5 812.5,638.1 820.5,639.4 828.5,639.4 836.5,640.4 844.5,640.6 852.5,642.1 860.5,643.5 868.5,645.4 876.5,647.5 884.5,649.4 892.5,651.5 900.5,653.2 908.5,654.4 916.5,655.4 924.5,656.5 932.5,658.5 940.5,661.2 948.5,664.4 956.5,668.4 964.5,672.2 972.5,675.4 980.5,679.2 988.5,683.2 996.5,687.3 1004.5,690.1 1012.5,691.6 1020.5,692.4 1028.5,691.6 1036.5,691.4 1044.5,691.1 1052.5,690.4 1060.5,690.1 1068.5,689.5 1076.5,688.6 1084.5,688.2 1092.5,687.6 1100.5,687.6 1108.5,688.4 1116.5,690.3 1124.5,692.3 1132.5,695.1 1140.5,699.2"/>
<polyline points="4.5,695.3 12.5,690 20.5,684.2 28.5,678.4 36.5,673.5 44.5,667.2 52.5,662.8 60.5,658.4 68.5,654.3 76.5,651.2 84.5,648.4 92.5,647.4 100.5,647.4 108.5,648.3 116.5,649.6 124.5,651.5 132.5,653.4 140.5,655.5 148.5,659.3 156.5,662.4 164.5,666 172.5,669.7 180.5,675 188.5,680 196.5,685 204.5,691.5 212.5,699 220.5,706.5 228.5,714.2 236.5,721.5 244.5,728.6 252.5,734.9 260.5,742.2 268.5,749.3 276.5,754.6 284.5,758.8 292.5,762.8 300.5,765.7 308.5,766.3 316.5,766.3 324.5,765.3 332.5,763.1 340.5,759.8 348.5,754.4 356.5,746.2 364.5,737.8 372.5,729.7 380.5,722 388.5,714.4 396.5,705.3 404.5,696.9 412.5,689.3 420.5,682.7 428.5,677.2 436.5,672.4 444.5,667.4 452.5,664.2 460.5,662.4 468.5,661.4 476.5,661.4 484.5,661.4 492.5,661.4 500.5,661.4 508.5,662.4 516.5,663.4 524.5,664.4 532.5,664.6 540.5,665.4 548.5,665.5 556.5,665.5 564.5,665.5 572.5,666.5 580.5,666.5 588.5,664.8 596.5,662.3 604.5,659.2 612.5,654.8 620.5,650.2 628.5,646.6 636.5,641 644.5,635.1 652.5,630.1 660.5,625.9 668.5,623.4 676.5,621.9 684.5,620.3 692.5,618.4 700.5,617.5 708.5,617.5 716.5,617.5 724.5,617.5 732.5,617.5 740.5,618.4 748.5,619.4 756.5,621.9 764.5,624.3 772.5,628.4 780.5,630.6 788.5,633.1 796.5,635.3 804.5,637.5 812.5,639.1 820.5,640.4 828.5,640.4 836.5,641.4 844.5,641.6 852.5,643.1 860.5,644.5 868.5,646.4 876.5,648.5 884.5,650.4 892.5,652.5 900.5,654.2 908.5,655.4 916.5,656.4 924.5,657.5 932.5,659.5 940.5,662.2 948.5,665.4 956.5,669.4 964.5,673.2 972.5,676.4 980.5,680.2 988.5,684.2 996.5,688.3 1004.5,691.1 1012.5,692.6 1020.5,693.4 1028.5,692.6 1036.5,692.4 1044.5,692.1 1052.5,691.4 1060.5,691.1 1068.5,690.5 1076.5,689.6 1084.5,689.2 1092.5,688.6 1100.5,688.6 1108.5,689.4 1116.5,691.3 1124.5,693.3 1132.5,696.1 1140.5,700.2"/>
<polyline points="5.5,693.3 13.5,688 21.5,682.2 29.5,676.4 37.5,671.5 45.5,665.2 53.5,660.8 61.5,656.4 69.5,652.3 77.5,649.2 85.5,646.4 93.5,645.4 101.5,645.4 109.5,646.3 117.5,647.6 125.5,649.5 133.5,651.4 141.5,653.5 149.5,657.3 157.5,660.4 165.5,664 173.5,667.7 181.5,673 189.5,678 197.5,683 205.5,689.5 213.5,697 221.5,704.5 229.5,712.2 237.5,719.5 245.5,726.6 253.5,732.9 261.5,740.2 269.5,747.3 277.5,752.6 285.5,756.8 293.5,760.8 301.5,763.7 309.5,764.3 317.5,764.3 325.5,763.3 333.5,761.1 341.5,757.8 349.5,752.4 357.5,744.2 365.5,735.8 373.5,727.7 381.5,720 389.5,712.4 397.5,703.3 405.5,694.9 413.5,687.3 421.5,680.7 429.5,675.2 437.5,670.4 445.5,665.4 453.5,662.2 461.5,660.4 469.5,659.4 477.5,659.4 485.5,659.4 493.5,659.4 501.5,659.4 509.5,660.4 517.5,661.4 525.5,662.4 533.5,662.6 541.5,663.4 549.5,663.5 557.5,663.5 565.5,663.5 573.5,664.5 581.5,664.5 589.5,662.8 597.5,660.3 605.5,657.2 613.5,652.8 621.5,648.2 629.5,644.6 637.5,639 645.5,633.1 653.5,628.1 661.5,623.9 669.5,621.4 677.5,619.9 685.5,618.3 693.5,616.4 701.5,615.5 709.5,615.5 717.5,615.5 725.5,615.5 733.5,615.5 741.5,616.4 749.5,617.4 757.5,619.9 765.5,622.3 773.5,626.4 781.5,628.6 789.5,631.1 797.5,633.3 805.5,635.5 813.5,637.1 821.5,638.4 829.5,638.4 837.5,639.4 845.5,639.6 853.5,641.1 861.5,642.5 869.5,644.4 877.5,646.5 885.5,648.4 893.5,650.5 901.5,652.2 909.5,653.4 917.5,654.4 925.5,655.5 933.5,657.5 941.5,660.2 949.5,663.4 957.5,667.4 965.5,671.2 973.5,674.4 981.5,678.2 989.5,682.2 997.5,686.3 1005.5,689.1 1013.5,690.6 1021.5,691.4 1029.5,690.6 1037.5,690.4 1045.5,690.1 1053.5,689.4 1061.5,689.1 1069.5,688.5 1077.5,687.6 1085.5,687.2 1093.5,686.6 1101.5,686.6 1109.5,687.4 1117.5,689.3 1125.5,691.3 1133.5,694.1 1141.5,698.2"/>
<polyline points="5.5,694.3 13.5,689 21.5,683.2 29.5,677.4 37.5,672.5 45.5,666.2 53.5,661.8 61.5,657.4 69.5,653.3 77.5,650.2 85.5,647.4 93.5,646.4 101.5,646.4 109.5,647.3 117.5,648.6 125.5,650.5 133.5,652.4 141.5,654.5 149.5,658.3 157.5,661.4 165.5,665 173.5,668.7 181.5,674 189.5,679 197.5,684 205.5,690.5 213.5,698 221.5,705.5 229.5,713.2 237.5,720.5 245.5,727.6 253.5,733.9 261.5,741.2 269.5,748.3 277.5,753.6 285.5,757.8 293.5,761.8 301.5,764.7 309.5,765.3 317.5,765.3 325.5,764.3 333.5,762.1 341.5,758.8 349.5,753.4 357.5,745.2 365.5,736.8 373.5,728.7 381.5,721 389.5,713.4 397.5,704.3 405.5,695.9 413.5,688.3 421.5,681.7 429.5,676.2 437.5,671.4 445.5,666.4 453.5,663.2 461.5,661.4 469.5,660.4 477.5,660.4 485.5,660.4 493.5,660.4 501.5,660.4 509.5,661.4 517.5,662.4 525.5,663.4 533.5,663.6 541.5,664.4 549.5,664.5 557.5,664.5 565.5,664.5 573.5,665.5 581.5,665.5 589.5,663.8 597.5,661.3 605.5,658.2 613.5,653.8 621.5,649.2 629.5,645.6 637.5,640 645.5,634.1 653.5,629.1 661.5,624.9 669.5,622.4 677.5,620.9 685.5,619.3 693.5,617.4 701.5,616.5 709.5,616.5 717.5,616.5 725.5,616.5 733.5,616.5 741.5,617.4 749.5,618.4 757.5,620.9 765.5,623.3 773.5,627.4 781.5,629.6 789.5,632.1 797.5,634.3 805.5,636.5 813.5,638.1 821.5,639.4 829.5,639.4 837.5,640.4 845.5,640.6 853.5,642.1 861.5,643.5 869.5,645.4 877.5,647.5 885.5,649.4 893.5,651.5 901.5,653.2 909.5,654.4 917.5,655.4 925.5,656.5 933.5,658.5 941.5,661.2 949.5,664.4 957.5,668.4 965.5,672.2 973.5,675.4 981.5,679.2 989.5,683.2 997.5,687.3 1005.5,690.1 1013.5,691.6 1021.5,692.4 1029.5,691.6 1037.5,691.4 1045.5,691.1 1053.5,690.4 1061.5,690.1 1069.5,689.5 1077.5,688.6 1085.5,688.2 1093.5,687.6 1101.5,687.6 1109.5,688.4 1117.5,690.3 1125.5,692.3 1133.5,695.1 1141.5,699.2"/>
<polyline points="5.5,695.3 13.5,690 21.5,684.2 29.5,678.4 37.5,673.5 45.5,667.2 53.5,662.8 61.5,658.4 69.5,654.3 77.5,651.2 85.5,648.4 93.5,647.4 101.5,647.4 109.5,648.3 117.5,649.6 125.5,651.5 133.5,653.4 141.5,655.5 149.5,659.3 157.5,662.4 165.5,666 173.5,669.7 181.5,675 189.5,680 197.5,685 205.5,691.5 213.5,699 221.5,706.5 229.5,714.2 237.5,721.5 245.5,728.6 253.5,734.9 261.5,742.2 269.5,749.3 277.5,754.6 285.5,758.8 293.5,762.8 301.5,765.7 309.5,766.3 317.5,766.3 325.5,765.3 333.5,763.1 341.5,759.8 349.5,754.4 357.5,746.2 365.5,737.8 373.5,729.7 381.5,722 389.5,714.4 397.5,705.3 405.5,696.9 413.5,689.3 421.5,682.7 429.5,677.2 437.5,672.4 445.5,667.4 453.5,664.2 461.5,662.4 469.5,661.4 477.5,661.4 485.5,661.4 493.5,661.4 501.5,661.4 509.5,662.4 517.5,663.4 525.5,664.4 533.5,664.6 541.5,665.4 549.5,665.5 557.5,665.5 565.5,665.5 573.5,666.5 581.5,666.5 589.5,664.8 597.5,662.3 605.5,659.2 613.5,654.8 621.5,650.2 629.5,646.6 637.5,641 645.5,635.1 653.5,630.1 661.5,625.9 669.5,623.4 677.5,621.9 685.5,620.3 693.5,618.4 701.5,617.5 709.5,617.5 717.5,617.5 725.5,617.5 733.5,617.5 741.5,618.4 749.5,619.4 757.5,621.9 765.5,624.3 773.5,628.4 781.5,630.6 789.5,633.1 797.5,635.3 805.5,637.5 813.5,639.1 821.5,640.4 829.5,640.4 837.5,641.4 845.5,641.6 853.5,643.1 861.5,644.5 869.5,646.4 877.5,648.5 885.5,650.4 893.5,652.5 901.5,654.2 909.5,655.4 917.5,656.4 925.5,657.5 933.5,659.5 941.5,662.2 949.5,665.4 957.5,669.4 965.5,673.2 973.5,676.4 981.5,680.2 989.5,684.2 997.5,688.3 1005.5,691.1 1013.5,692.6 1021.5,693.4 1029.5,692.6 1037.5,692.4 1045.5,692.1 1053.5,691.4 1061.5,691.1 1069.5,690.5 1077.5,689.6 1085.5,689.2 1093.5,688.6 1101.5,688.6 1109.5,689.4 1117.5,691.3 1125.5,693.3 1133.5,696.1 1141.5,700.2"/>
<polyline points="6.5,693.3 14.5,688 22.5,682.2 30.5,676.4 38.5,671.5 46.5,665.2 54.5,660.8 62.5,656.4 70.5,652.3 78.5,649.2 86.5,646.4 94.5,645.4 102.5,645.4 110.5,646.3 118.5,647.6 126.5,649.5 134.5,651.4 142.5,653.5 150.5,657.3 158.5,660.4 166.5,664 174.5,667.7 182.5,673 190.5,678 198.5,683 206.5,689.5 214.5,697 222.5,704.5 230.5,712.2 238.5,719.5 246.5,726.6 254.5,732.9 262.5,740.2 270.5,747.3 278.5,752.6 286.5,756.8 294.5,760.8 302.5,763.7 310.5,764.3 318.5,764.3 326.5,763.3 334.5,761.1 342.5,757.8 350.5,752.4 358.5,744.2 366.5,735.8 374.5,727.7 382.5,720 390.5,712.4 398.5,703.3 406.5,694.9 414.5,687.3 422.5,680.7 430.5,675.2 438.5,670.4 446.5,665.4 454.5,662.2 462.5,660.4 470.5,659.4 478.5,659.4 486.5,659.4 494.5,659.4 502.5,659.4 510.5,660.4 518.5,661.4 526.5,662.4 534.5,662.6 542.5,663.4 550.5,663.5 558.5,663.5 566.5,663.5 574.5,664.5 582.5,664.5 590.5,662.8 598.5,660.3 606.5,657.2 614.5,652.8 622.5,648.2 630.5,644.6 638.5,639 646.5,633.1 654.5,628.1 662.5,623.9 670.5,621.4 678.5,619.9 686.5,618.3 694.5,616.4 702.5,615.5 710.5,615.5 718.5,615.5 726.5,615.5 734.5,615.5 742.5,616.4 750.5,617.4 758.5,619.9 766.5,622.3 774.5,626.4 782.5,628.6 790.5,631.1 798.5,633.3 806.5,635.5 814.5,637.1 822.5,638.4 830.5,638.4 838.5,639.4 846.5,639.6 854.5,641.1 862.5,642.5 870.5,644.4 878.5,646.5 886.5,648.4 894.5,650.5 902.5,652.2 910.5,653.4 918.5,654.4 926.5,655.5 934.5,657.5 942.5,660.2 950.5,663.4 958.5,667.4 966.5,671.2 974.5,674.4 982.5,678.2 990.5,682.2 998.5,686.3 1006.5,689.1 1014.5,690.6 1022.5,691.4 1030.5,690.6 1038.5,690.4 1046.5,690.1 1054.5,689.4 1062.5,689.1 1070.5,688.5 1078.5,687.6 1086.5,687.2 1094.5,686.6 1102.5,686.6 1110.5,687.4 1118.5,689.3 1126.5,691.3 1134.5,694.1 1142.5,698.2"/>
<polyline points="6.5,694.3 14.5,689 22.5,683.2 30.5,677.4 38.5,672.5 46.5,666.2 54.5,661.8 62.5,657.4 70.5,653.3 78.5,650.2 86.5,647.4 94.5,646.4 102.5,646.4 110.5,647.3 118.5,648.6 126.5,650.5 134.5,652.4 142.5,654.5 150.5,658.3 158.5,661.4 166.5,665 174.5,668.7 182.5,674 190.5,679 198.5,684 206.5,690.5 214.5,698 222.5,705.5 230.5,713.2 238.5,720.5 246.5,727.6 254.5,733.9 262.5,741.2 270.5,748.3 278.5,753.6 286.5,757.8 294.5,761.8 302.5,764.7 310.5,765.3 318.5,765.3 326.5,764.3 334.5,762.1 342.5,758.8 350.5,753.4 358.5,745.2 366.5,736.8 374.5,728.7 382.5,721 390.5,713.4 398.5,704.3 406.5,695.9 414.5,688.3 422.5,681.7 430.5,676.2 438.5,671.4 446.5,666.4 454.5,663.2 462.5,661.4 470.5,660.4 478.5,660.4 486.5,660.4 494.5,660.4 502.5,660.4 510.5,661.4 518.5,662.4 526.5,663.4 534.5,663.6 542.5,664.4 550.5,664.5 558.5,664.5 566.5,664.5 574.5,665.5 582.5,665.5 590.5,663.8 598.5,661.3 606.5,658.2 614.5,653.8 622.5,649.2 630.5,645.6 638.5,640 646.5,634.1 654.5,629.1 662.5,624.9 670.5,622.4 678.5,620.9 686.5,619.3 694.5,617.4 702.5,616.5 710.5,616.5 718.5,616.5 726.5,616.5 734.5,616.5 742.5,617.4 750.5,618.4 758.5,620.9 766.5,623.3 774.5,627.4 782.5,629.6 790.5,632.1 798.5,634.3 806.5,636.5 814.5,638.1 822.5,639.4 830.5,639.4 838.5,640.4 846.5,640.6 854.5,642.1 862.5,643.5 870.5,645.4 878.5,647.5 886.5,649.4 894.5,651.5 902.5,653.2 910.5,654.4 918.5,655.4 926.5,656.5 934.5,658.5 942.5,661.2 950.5,664.4 958.5,668.4 966.5,672.2 974.5,675.4 982.5,679.2 990.5,683.2 998.5,687.3 1006.5,690.1 1014.5,691.6 1022.5,692.4 1030.5,691.6 1038.5,691.4 1046.5,691.1 1054.5,690.4 1062.5,690.1 1070.5,689.5 1078.5,688.6 1086.5,688.2 1094.5,687.6 1102.5,687.6 1110.5,688.4 1118.5,690.3 1126.5,692.3 1134.5,695.1 1142.5,699.2"/>
<polyline points="6.5,695.3 14.5,690 22.5,684.2 30.5,678.4 38.5,673.5 46.5,667.2 54.5,662.8 62.5,658.4 70.5,654.3 78.5,651.2 86.5,648.4 94.5,647.4 102.5,647.4 110.5,648.3 118.5,649.6 126.5,651.5 134.5,653.4 142.5,655.5 150.5,659.3 158.5,662.4 166.5,666 174.5,669.7 182.5,675 190.5,680 198.5,685 206.5,691.5 214.5,699 222.5,706.5 230.5,714.2 238.5,721.5 246.5,728.6 254.5,734.9 262.5,742.2 270.5,749.3 278.5,754.6 286.5,758.8 294.5,762.8 302.5,765.7 310.5,766.3 318.5,766.3 326.5,765.3 334.5,763.1 342.5,759.8 350.5,754.4 358.5,746.2 366.5,737.8 374.5,729.7 382.5,722 390.5,714.4 398.5,705.3 406.5,696.9 414.5,689.3 422.5,682.7 430.5,677.2 438.5,672.4 446.5,667.4 454.5,664.2 462.5,662.4 470.5,661.4 478.5,661.4 486.5,661.4 494.5,661.4 502.5,661.4 510.5,662.4 518.5,663.4 526.5,664.4 534.5,664.6 542.5,665.4 550.5,665.5 558.5,665.5 566.5,665.5 574.5,666.5 582.5,666.5 590.5,664.8 598.5,662.3 606.5,659.2 614.5,654.8 622.5,650.2 630.5,646.6 638.5,641 646.5,635.1 654.5,630.1 662.5,625.9 670.5,623.4 678.5,621.9 686.5,620.3 694.5,618.4 702.5,617.5 710.5,617.5 718.5,617.5 726.5,617.5 734.5,617.5 742.5,618.4 750.5,619.4 758.5,621.9 766.5,624.3 774.5,628.4 782.5,630.6 790.5,633.1 798.5,635.3 806.5,637.5 814.5,639.1 822.5,640.4 830.5,640.4 838.5,641.4 846.5,641.6 854.5,643.1 862.5,644.5 870.5,646.4 878.5,648.5 886.5,650.4 894.5,652.5 902.5,654.2 910.5,655.4 918.5,656.4 926.5,657.5 934.5,659.5 942.5,662.2 950.5,665.4 958.5,669.4 966.5,673.2 974.5,676.4 982.5,680.2 990.5,684.2 998.5,688.3 1006.5,691.1 1014.5,692.6 1022.5,693.4 1030.5,692.6 1038.5,692.4 1046.5,692.1 1054.5,691.4 1062.5,691.1 1070.5,690.5 1078.5,689.6 1086.5,689.2 1094.5,688.6 1102.5,688.6 1110.5,689.4 1118.5,691.3 1126.5,693.3 1134.5,696.1 1142.5,700.2"/>
</g>
<g shape-rendering="crispEdges">
<rect x="5" y="42" width="1447" height="4" fill="#000"/>
<rect x="5" y="169" width="1447" height="4" fill="#0000cd"/>
<rect x="5" y="297" width="1447" height="4" fill="#0000cd"/>
</g>
<path d="M1158.9 170.4L1202.1 52" stroke="#ff0000" stroke-width="6.2" stroke-linecap="round" fill="none"/>
<path d="M1204.8 45.3L1180.9 74.5L1203.3 83Z" fill="#ff0000"/>
<path d="M1154 5H1169.5L1161.7 13Z" fill="#778899"/>
<g shape-rendering="crispEdges">
<rect x="4" y="4" width="1449" height="1" fill="#000"/>
<rect x="4" y="4" width="1" height="598" fill="#000"/>
<rect x="1452" y="4" width="1" height="598" fill="#000"/>
<rect x="4" y="601" width="1449" height="1" fill="#000"/>
<rect x="4" y="603" width="1449" height="1" fill="#000"/>
<rect x="4" y="603" width="1" height="182" fill="#000"/>
<rect x="1452" y="603" width="1" height="182" fill="#000"/>
<rect x="4" y="784" width="1449" height="1" fill="#000"/>
<rect x="1452" y="169" width="2" height="4" fill="#0000cd"/><rect x="1452" y="297" width="2" height="4" fill="#0000cd"/><rect x="1452" y="42" width="2" height="4" fill="#000"/>
<rect x="1453" y="46" width="2" height="1" fill="#000"/>
<rect x="1453" y="111" width="2" height="1" fill="#000"/>
<rect x="1453" y="176" width="2" height="1" fill="#000"/>
<rect x="1453" y="241" width="2" height="1" fill="#000"/>
<rect x="1453" y="306" width="2" height="1" fill="#000"/>
<rect x="1453" y="371" width="2" height="1" fill="#000"/>
<rect x="1453" y="436" width="2" height="1" fill="#000"/>
<rect x="1453" y="501" width="2" height="1" fill="#000"/>
<rect x="1453" y="566" width="2" height="1" fill="#000"/>
<rect x="1453" y="604" width="1" height="1" fill="#000"/><rect x="1453" y="706" width="1" height="1" fill="#000"/><rect x="1453" y="784" width="1" height="1" fill="#000"/>
<rect x="5" y="785" width="1" height="3" fill="#000"/>
<rect x="133" y="785" width="1" height="3" fill="#000"/>
<rect x="261" y="785" width="1" height="3" fill="#000"/>
<rect x="389" y="785" width="1" height="3" fill="#000"/>
<rect x="517" y="785" width="1" height="3" fill="#000"/>
<rect x="645" y="785" width="1" height="3" fill="#000"/>
<rect x="773" y="785" width="1" height="3" fill="#000"/>
<rect x="901" y="785" width="1" height="3" fill="#000"/>
<rect x="1029" y="785" width="1" height="3" fill="#000"/>
</g>
<text x="25.68" y="20.7" textLength="57.92" lengthAdjust="spacingAndGlyphs">DJ30-,H4</text>
<text x="92.18" y="20.7" textLength="52.35" lengthAdjust="spacingAndGlyphs">35457.0</text>
<text x="148.38" y="20.7" textLength="52.35" lengthAdjust="spacingAndGlyphs">35490.0</text>
<text x="203.98" y="20.7" textLength="51.53" lengthAdjust="spacingAndGlyphs">35420.0</text>
<text x="260.08" y="20.7" textLength="51.46" lengthAdjust="spacingAndGlyphs">35434.5</text>
<text x="8.65" y="620.7" textLength="38.04" lengthAdjust="spacingAndGlyphs">MACD</text>
<text x="45.97" y="620.7" textLength="58.95" lengthAdjust="spacingAndGlyphs">(12,26,9)</text>
<text x="108.35" y="620.7" textLength="40.64" lengthAdjust="spacingAndGlyphs">-25.84</text>
<text x="153.27" y="620.7" textLength="35.71" lengthAdjust="spacingAndGlyphs">15.79</text>
<text x="1458.98" y="116.7" textLength="52.18" lengthAdjust="spacingAndGlyphs">35550.5</text>
<text x="1458.98" y="246.7" textLength="52.18" lengthAdjust="spacingAndGlyphs">35074.5</text>
<text x="1458.98" y="311.7" textLength="52.04" lengthAdjust="spacingAndGlyphs">34835.0</text>
<text x="1458.98" y="376.7" textLength="52.04" lengthAdjust="spacingAndGlyphs">34595.0</text>
<text x="1458.98" y="441.7" textLength="52.18" lengthAdjust="spacingAndGlyphs">34353.5</text>
<text x="1458.97" y="506.7" textLength="52.18" lengthAdjust="spacingAndGlyphs">34115.5</text>
<text x="1458.98" y="571.7" textLength="52.04" lengthAdjust="spacingAndGlyphs">33874.0</text>
<text x="1455.31" y="618.7" textLength="44.53" lengthAdjust="spacingAndGlyphs">214.47</text>
<text x="1455.78" y="711.7" textLength="28.13" lengthAdjust="spacingAndGlyphs">0.00</text>
<text x="1455.65" y="779.7" textLength="48.85" lengthAdjust="spacingAndGlyphs">-162.37</text>
<text x="3.79" y="801.7" textLength="78.11" lengthAdjust="spacingAndGlyphs">30 Jun 2023</text>
<text x="131.56" y="801.7" textLength="69.27" lengthAdjust="spacingAndGlyphs">5 Jul 00:00</text>
<text x="259.53" y="801.7" textLength="68.89" lengthAdjust="spacingAndGlyphs">7 Jul 16:00</text>
<text x="388.28" y="801.7" textLength="76.9" lengthAdjust="spacingAndGlyphs">12 Jul 08:00</text>
<text x="515.98" y="801.7" textLength="76.9" lengthAdjust="spacingAndGlyphs">17 Jul 00:00</text>
<text x="643.98" y="801.7" textLength="77.0" lengthAdjust="spacingAndGlyphs">19 Jul 16:00</text>
<text x="771.73" y="801.7" textLength="76.94" lengthAdjust="spacingAndGlyphs">24 Jul 08:00</text>
<text x="899.53" y="801.7" textLength="77.04" lengthAdjust="spacingAndGlyphs">27 Jul 00:00</text>
<text x="1027.79" y="801.7" textLength="76.99" lengthAdjust="spacingAndGlyphs">31 Jul 16:00</text>
<g shape-rendering="crispEdges"><rect x="1454" y="38" width="62" height="17" fill="#000"/><rect x="1454" y="135" width="62" height="17" fill="#000"/><rect x="1454" y="165" width="62" height="17" fill="#0000cd"/><rect x="1454" y="293" width="62" height="17" fill="#0000cd"/></g>
<text x="1458.98" y="51.7" textLength="52.04" lengthAdjust="spacingAndGlyphs" class="w">35800.0</text>
<text x="1458.98" y="148.7" textLength="52.18" lengthAdjust="spacingAndGlyphs" class="w">35434.5</text>
<text x="1458.98" y="178.7" textLength="52.04" lengthAdjust="spacingAndGlyphs" class="w">35330.0</text>
<text x="1458.98" y="306.7" textLength="52.04" lengthAdjust="spacingAndGlyphs" class="w">34860.0</text>
<path d="M8 12H19L13.5 18Z" fill="#000"/>
</svg></body></html>
